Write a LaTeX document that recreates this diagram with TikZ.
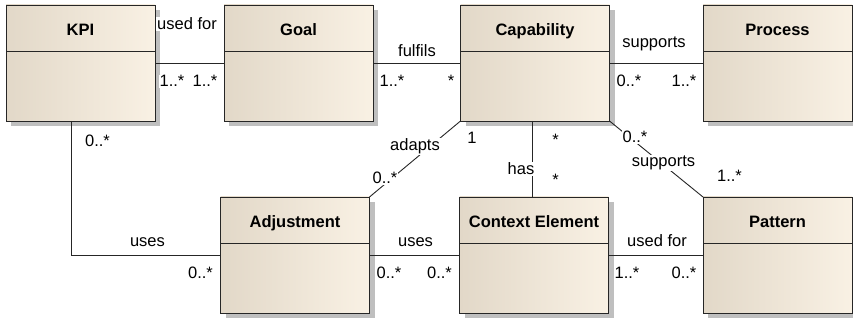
\documentclass[tikz,border=0pt]{standalone}
\usepackage{fontspec}
\setmainfont{Liberation Sans}
\usetikzlibrary{shadows}
\definecolor{boxleft}{RGB}{226,216,200}
\definecolor{boxright}{RGB}{249,241,228}
\tikzset{cbox/.style={
    rectangle,
    draw=black!85,
    line width=0.9pt,
    minimum width=149pt,
    minimum height=116pt,
    inner sep=0pt,
    outer sep=0pt,
    left color=boxleft,
    right color=boxright,
    drop shadow={shadow xshift=5pt,shadow yshift=-5pt,fill=black!25,opacity=1}
  },
  ctitle/.style={font=\bfseries\fontsize{16.5}{19}\selectfont,anchor=base},
  lbl/.style={font=\fontsize{16.5}{19}\selectfont,anchor=base,fill=white,inner sep=1pt},
  assoc/.style={draw=black!85,line width=0.9pt},
}
\begin{document}
\begin{tikzpicture}[x=1pt,y=-1pt]
  \useasboundingbox (0,0) rectangle (853,320);
  % classes
  \node [cbox] (kpi) at (80.5,63) {};
  \node [cbox] (goal) at (298.5,63) {};
  \node [cbox] (cap) at (535,63) {};
  \node [cbox] (proc) at (777.5,63) {};
  \node [cbox] (adj) at (295,255) {};
  \node [cbox] (ctx) at (534,255) {};
  \node [cbox] (pat) at (777.5,255) {};
  \foreach \n/\t in {kpi/KPI,goal/Goal,cap/Capability,proc/Process,
                     adj/Adjustment,ctx/Context Element,pat/Pattern} {
    \node [ctitle] (\n-title) at ([yshift=-31pt]\n.north) {\t};
    \draw [assoc] ([yshift=-46pt]\n.north west) -- ([yshift=-46pt]\n.north east);
  }
  % associations
  \draw [assoc] (kpi.east) -- (goal.west);
  \draw [assoc] (goal.east) -- (cap.west);
  \draw [assoc] (cap.east) -- (proc.west);
  \draw [assoc] ([xshift=-9.5pt]kpi.south) |- (adj.west);
  \draw [assoc] (adj.east) -- (ctx.west);
  \draw [assoc] (ctx.east) -- (pat.west);
  \draw [assoc] ([xshift=-2.5pt]cap.south) -- ([xshift=-1.5pt]ctx.north);
  \draw [assoc] (cap.south west) -- (adj.north east);
  \draw [assoc] (cap.south east) -- (pat.north west);
  % roles and multiplicities
  \node [lbl] (kg) at (187,30) {used for};
  \node [lbl] (kg-a) at (172,87) {1..*};
  \node [lbl] (kg-b) at (205,87) {1..*};
  \node [lbl] (gc) at (417,57) {fulfils};
  \node [lbl] (gc-a) at (392,87) {1..*};
  \node [lbl] (gc-b) at (451,87) {*};
  \node [lbl] (cp) at (654,48) {supports};
  \node [lbl] (cp-a) at (629,87) {0..*};
  \node [lbl] (cp-b) at (684,87) {1..*};
  \node [lbl] (ca) at (415,151) {adapts};
  \node [lbl] (ca-a) at (472,144) {1};
  \node [lbl] (ca-b) at (385,184) {0..*};
  \node [lbl] (cc) at (521,175) {has};
  \node [lbl] (cc-a) at (555.5,146) {*};
  \node [lbl] (cc-b) at (555.5,186) {*};
  \node [lbl] (cpt-a) at (635,143) {0..*};
  \node [lbl] (cpt) at (663.5,167) {supports};
  \node [lbl] (cpt-b) at (729.5,182) {1..*};
  \node [lbl] (ka-a) at (97.5,147) {0..*};
  \node [lbl] (ka) at (147.5,247) {uses};
  \node [lbl] (ka-b) at (200.5,278) {0..*};
  \node [lbl] (ac) at (415.5,247) {uses};
  \node [lbl] (ac-a) at (389,278) {0..*};
  \node [lbl] (ac-b) at (439.5,278) {0..*};
  \node [lbl] (xp) at (657,247) {used for};
  \node [lbl] (xp-a) at (627,278) {1..*};
  \node [lbl] (xp-b) at (684,278) {0..*};
\end{tikzpicture}
\end{document}
